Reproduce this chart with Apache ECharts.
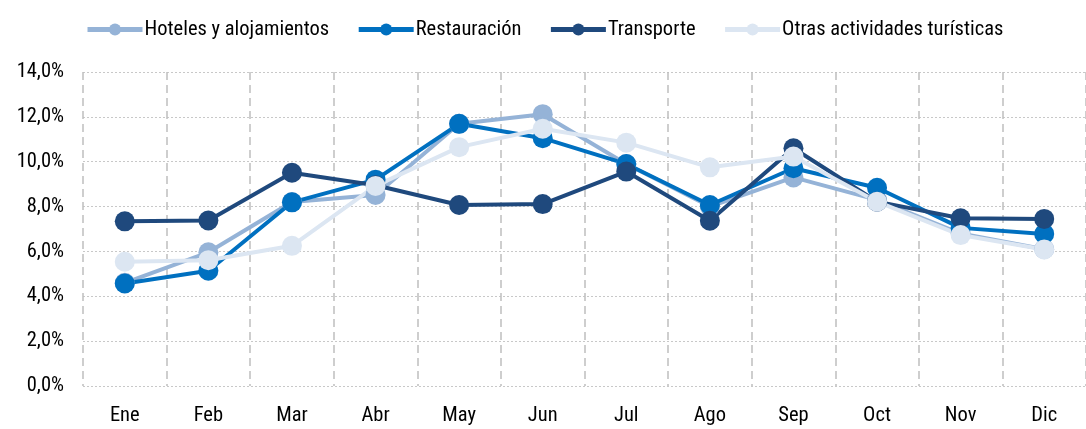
<!DOCTYPE html>
<html>
<head>
<meta charset="utf-8">
<script src="https://cdn.jsdelivr.net/npm/echarts@6/dist/echarts.min.js"></script>
<style>
  html, body { margin: 0; padding: 0; background: #fff; }
  #chart { width: 1086px; height: 429px; }
</style>
</head>
<body>
<div id="chart"></div>
<script>
var meses = ['Ene', 'Feb', 'Mar', 'Abr', 'May', 'Jun', 'Jul', 'Ago', 'Sep', 'Oct', 'Nov', 'Dic'];
var hoteles = [4.6, 5.96, 8.2, 8.52, 11.69, 12.12, 9.9, 8.0, 9.3, 8.3, 6.8, 6.1];
var restauracion = [4.57, 5.14, 8.19, 9.2, 11.69, 11.05, 9.9, 8.07, 9.71, 8.84, 7.05, 6.78];
var transporte = [7.34, 7.38, 9.51, 8.95, 8.07, 8.11, 9.56, 7.37, 10.6, 8.22, 7.48, 7.45];
var otras = [5.54, 5.61, 6.25, 8.92, 10.65, 11.47, 10.85, 9.75, 10.23, 8.22, 6.73, 6.09];

var fuente = '"Roboto Condensed", sans-serif';

function serie(nombre, datos, color) {
    return {
        name: nombre,
        type: 'line',
        data: datos,
        symbol: 'circle',
        symbolSize: 20,
        lineStyle: { color: color, width: 4 },
        itemStyle: { color: color },
        emphasis: { disabled: true }
    };
}

var myChart = echarts.init(document.getElementById('chart'));
var option = {
    animation: false,
    textStyle: { fontFamily: fuente },
    legend: {
        top: 14,
        left: 80,
        itemWidth: 55,
        itemHeight: 15,
        itemGap: 27,
        lineStyle: { width: 5 },
        textStyle: { fontFamily: fuente, fontSize: 20.5, color: '#000', padding: [0, 0, 0, -3] },
        data: ['Hoteles y alojamientos', 'Restauración', 'Transporte', 'Otras actividades turísticas']
    },
    grid: { left: 83, right: -12, top: 72, bottom: 43, containLabel: false },
    xAxis: {
        type: 'category',
        data: meses,
        boundaryGap: true,
        axisLine: { show: false },
        axisTick: { show: false },
        axisLabel: { fontFamily: fuente, fontSize: 20.5, color: '#000', margin: 19 },
        splitLine: { show: true, lineStyle: { color: '#bfbfbf', width: 1.5, type: [8, 5] } }
    },
    yAxis: {
        type: 'value',
        min: 0,
        max: 14,
        interval: 2,
        axisLine: { show: false },
        axisTick: { show: false },
        axisLabel: {
            fontFamily: fuente, fontSize: 20.5, color: '#000', margin: 19,
            formatter: function (v) { return v.toFixed(1).replace('.', ',') + '%'; }
        },
        splitLine: { lineStyle: { color: '#c8c8c8', width: 1, type: [2, 2] } }
    },
    series: [
        serie('Hoteles y alojamientos', hoteles, '#95B3D7'),
        serie('Restauración', restauracion, '#0070C0'),
        serie('Transporte', transporte, '#1F497D'),
        serie('Otras actividades turísticas', otras, '#DCE6F2')
    ]
};
myChart.setOption(option);
</script>
</body>
</html>
